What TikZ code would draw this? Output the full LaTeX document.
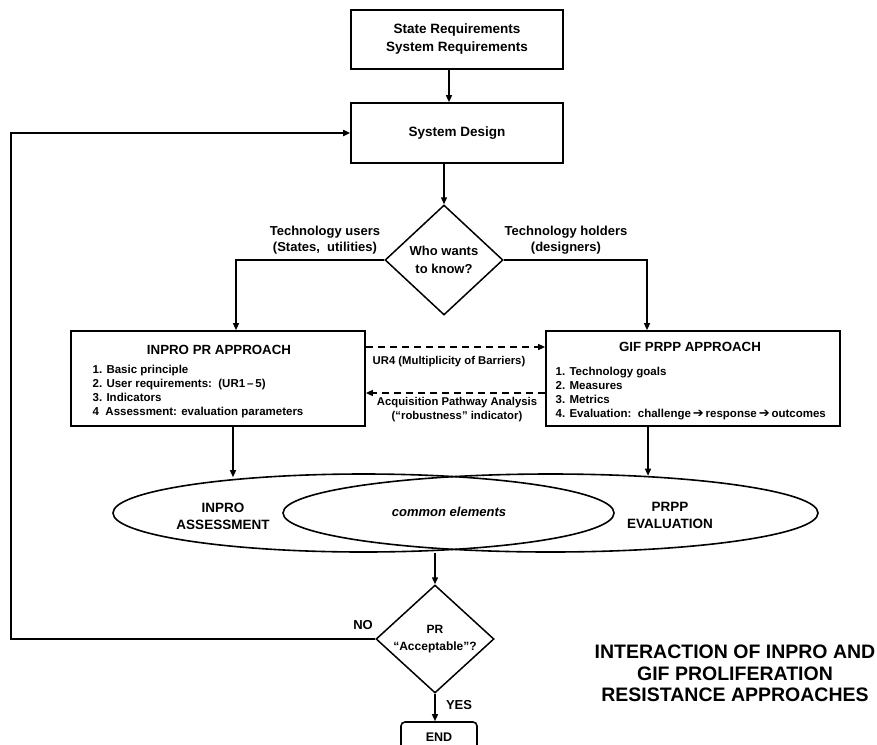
\documentclass[tikz,border=0pt]{standalone}
\usepackage{fontspec}
\setmainfont{Liberation Sans}
\newfontfamily\arrowfont{DejaVu Sans}
\usetikzlibrary{arrows.meta,shapes.geometric}
\newcommand{\nextstep}{\,{\arrowfont\bfseries\fontsize{13}{14}\selectfont ➔}\,}

\begin{document}
\begin{tikzpicture}[->,>={Triangle[length=7pt,width=6pt]}, x=1pt, y=-1pt, line width=1.4pt]
        \tikzset{
           stepbox/.style={
                        rectangle,
                        draw=black,
                        line width=1.7pt,
                        minimum width=212pt,
                        minimum height=59pt,
                        align=center,
                        font=\fontsize{13.5}{18}\selectfont\bfseries
                       },
           approach/.style={
                        rectangle,
                        draw=black,
                        line width=1.7pt,
                        minimum width=294pt,
                        minimum height=95pt
                       },
           question/.style={
                        diamond,
                        draw=black,
                        line width=1.5pt,
                        inner sep=0pt,
                        align=center
                       },
           result/.style={
                        ellipse,
                        draw=black,
                        line width=1.6pt,
                        minimum height=78pt,
                        inner sep=0pt
                       },
           endbox/.style={
                        rectangle,
                        rounded corners=4pt,
                        draw=black,
                        line width=1.6pt,
                        minimum width=76pt,
                        minimum height=30pt,
                        font=\fontsize{12.5}{15}\selectfont\bfseries
                       },
           heading/.style={font=\fontsize{13.3}{16}\selectfont\bfseries},
           items/.style={align=left, anchor=north west, inner sep=0pt,
                        font=\fontsize{11.5}{14}\selectfont\bfseries},
           branch/.style={align=center, font=\fontsize{13}{16}\selectfont\bfseries},
           outcome/.style={align=center, font=\fontsize{13.5}{17}\selectfont\bfseries},
           link/.style={align=center, font=\fontsize{11.3}{14}\selectfont\bfseries},
           barrier/.style={dash pattern=on 7pt off 5pt},
           caption/.style={align=center, font=\fontsize{19.5}{21.5}\selectfont\bfseries}
                 };
        \useasboundingbox (0,0) rectangle (877,744);
    %--------------------
        \node[stepbox]     (req)        at (457,39.5)  {State Requirements\\System Requirements};
        \node[stepbox, minimum height=60pt] (design) at (457,133) {System Design};

        \node[question, minimum width=118pt, minimum height=110pt,
              font=\fontsize{13}{18}\selectfont\bfseries] (who) at (444,260) {Who wants\\to know?};
        \node[branch]      (users)      at (325,240)   {Technology users\\(States,\ \ utilities)};
        \node[branch]      (holders)    at (566,240)   {Technology holders\\(designers)};

        \node[approach]    (inpro)      at (218,378.5) {};
        \node[heading]     (inproTitle) at (219,350)   {INPRO PR APPROACH};
        \node[items]       (inproList)  at (92,364.5)  {1. Basic principle\\2. User requirements:\ \ (UR1\,–\,5)\\3. Indicators\\4\ \ Assessment: evaluation parameters};

        \node[approach]    (gif)        at (693,378.5) {};
        \node[heading]     (gifTitle)   at (690,347)   {GIF PRPP APPROACH};
        \node[items]       (gifList)    at (555,366.5) {1. Technology goals\\2. Measures\\3. Metrics\\4. Evaluation:\ \ challenge\nextstep response\nextstep outcomes};

        \node[link]        (ur4)        at (449,362)   {UR4 (Multiplicity of Barriers)};
        \node[link]        (pathway)    at (457,410)   {Acquisition Pathway Analysis\\(“robustness” indicator)};

        \node[result, minimum width=501pt] (inproEll) at (363.5,513) {};
        \node[result, minimum width=535pt] (prppEll)  at (550.5,513) {};
        \node[outcome]     (inproRes)   at (223,516.5) {INPRO\\ASSESSMENT};
        \node[outcome]     (prppRes)    at (670,515.5) {PRPP\\EVALUATION};
        \node[font=\fontsize{13}{16}\selectfont\bfseries\itshape] (common) at (449,512) {common elements};

        \node[question, aspect=1.1, minimum width=118pt, minimum height=108pt,
              font=\fontsize{12}{17}\selectfont\bfseries] (accept) at (435,639) {PR\\“Acceptable”?};
        \node[branch]      (no)         at (363,625)   {NO};
        \node[branch]      (yes)        at (459,705)   {YES};
        \node[endbox]      (finish)     at (439,737)   {END};

        \node[caption]     (title)      at (735,673.5) {INTERACTION OF INPRO AND\\GIF PROLIFERATION\\RESISTANCE APPROACHES};

        \coordinate (loopX) at (11,0);
    %--------------------
        \path ([xshift=-8pt]req.south)  edge ([xshift=-8pt]design.north)
              (design.south -| who)     edge (who.north)
              (accept.north |- inproEll.south) edge (accept.north)
              (accept.south)            edge (finish.north -| accept.south);

        \draw (who.west) -| ([xshift=18pt]inpro.north);
        \draw (who.east) -| ([xshift=-46pt]gif.north);

        \draw[barrier] ([yshift=31.5pt]inpro.east) -- ([yshift=31.5pt]gif.west);
        \draw[barrier] ([yshift=-14.5pt]gif.west)  -- ([yshift=-14.5pt]inpro.east);

        \draw[shorten >=-4pt]   ([xshift=15pt]inpro.south) -- ([xshift=15pt]inpro.south |- inproEll.north);
        \draw[shorten >=-2.5pt] ([xshift=-45pt]gif.south)  -- ([xshift=-45pt]gif.south |- prppEll.north);

        \draw[line width=2.2pt] (accept.west) -- (accept.west -| loopX) |- (design.west);
    \end{tikzpicture}
\end{document}
